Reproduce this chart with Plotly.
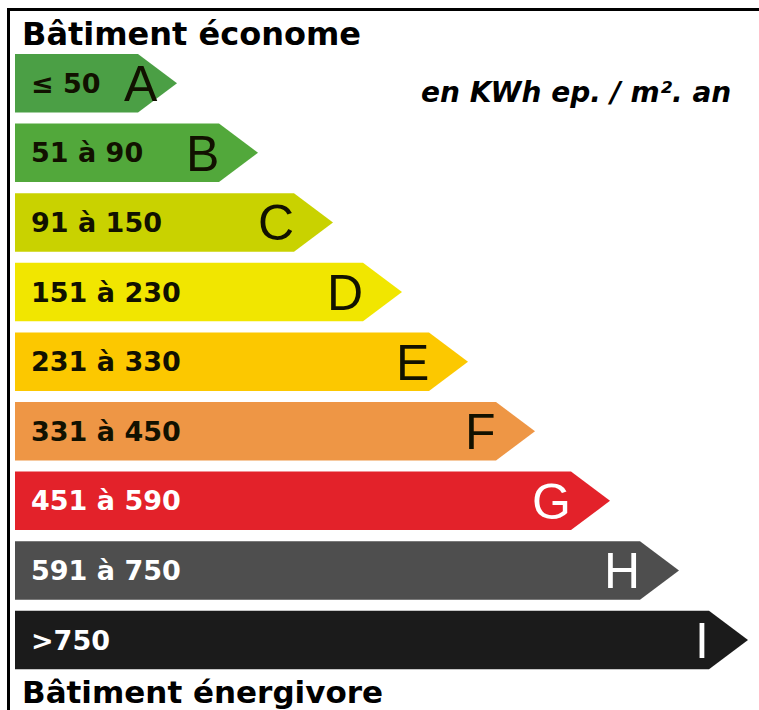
import plotly.graph_objects as go

classes = ["A", "B", "C", "D", "E", "F", "G", "H", "I"]
ranges = ["≤ 50", "51 à 90", "91 à 150", "151 à 230", "231 à 330",
          "331 à 450", "451 à 590", "591 à 750", ">750"]
arrow_ends = [177, 258, 333, 402, 468, 535, 610, 679, 748]

fills = ["#4b9f45", "#52a83b", "#c9d200", "#f1e600", "#fcc800",
         "#ee9645", "#e3222a", "#4e4e4e", "#1b1b1b"]
text_colors = ["#111100"] * 6 + ["#ffffff"] * 3

W, H = 759, 710
x0 = 15
top0, pitch, bh, tip = 54, 69.6, 58.5, 39

fig = go.Figure()
for i, (c, r, e) in enumerate(zip(classes, ranges, arrow_ends)):
    t = top0 + i * pitch
    b = t + bh
    m = (t + b) / 2
    body = e - tip
    fig.add_trace(go.Scatter(
        x=[x0, body, e, body, x0, x0], y=[t, t, m, b, b, t],
        mode="lines", fill="toself", fillcolor=fills[i],
        line=dict(width=0, color=fills[i]), hoverinfo="skip", showlegend=False))
    fig.add_annotation(x=29, y=m, text=f"<b>{r}</b>", showarrow=False,
                       xanchor="left", yanchor="middle",
                       font=dict(family="DejaVu Sans", size=27, color=text_colors[i]))
    lx = max(e - 37, 160)
    fig.add_annotation(x=lx, y=m + 1, text=c, showarrow=False,
                       xanchor="right", yanchor="middle",
                       font=dict(family="Liberation Sans", size=50, color=text_colors[i]))

fig.add_annotation(x=20, y=34, text="<b>Bâtiment économe</b>", showarrow=False,
                   xanchor="left", yanchor="middle",
                   font=dict(family="DejaVu Sans", size=32, color="#000000"))
fig.add_annotation(x=20, y=692, text="<b>Bâtiment énergivore</b>", showarrow=False,
                   xanchor="left", yanchor="middle",
                   font=dict(family="DejaVu Sans", size=31, color="#000000"))
fig.add_annotation(x=733, y=92, text="<b><i>en KWh ep. / m². an</i></b>", showarrow=False,
                   xanchor="right", yanchor="middle",
                   font=dict(family="DejaVu Sans", size=28, color="#000000"))

fig.add_shape(type="line", x0=7, x1=W, y0=9.5, y1=9.5, line=dict(color="black", width=3))
fig.add_shape(type="line", x0=8.5, x1=8.5, y0=8, y1=H, line=dict(color="black", width=3))

fig.update_layout(
    width=W, height=H, margin=dict(l=0, r=0, t=0, b=0),
    paper_bgcolor="white", plot_bgcolor="white",
    xaxis=dict(range=[0, W], visible=False, fixedrange=True),
    yaxis=dict(range=[H, 0], visible=False, fixedrange=True),
)
fig.write_html("out.html", config={"displayModeBar": False})

with open("out.html", "r", encoding="utf-8") as f:
    html = f.read()
html = html.replace("<head>", "<head><style>html,body{margin:0;padding:0;overflow:hidden}</style>", 1)
with open("out.html", "w", encoding="utf-8") as f:
    f.write(html)
